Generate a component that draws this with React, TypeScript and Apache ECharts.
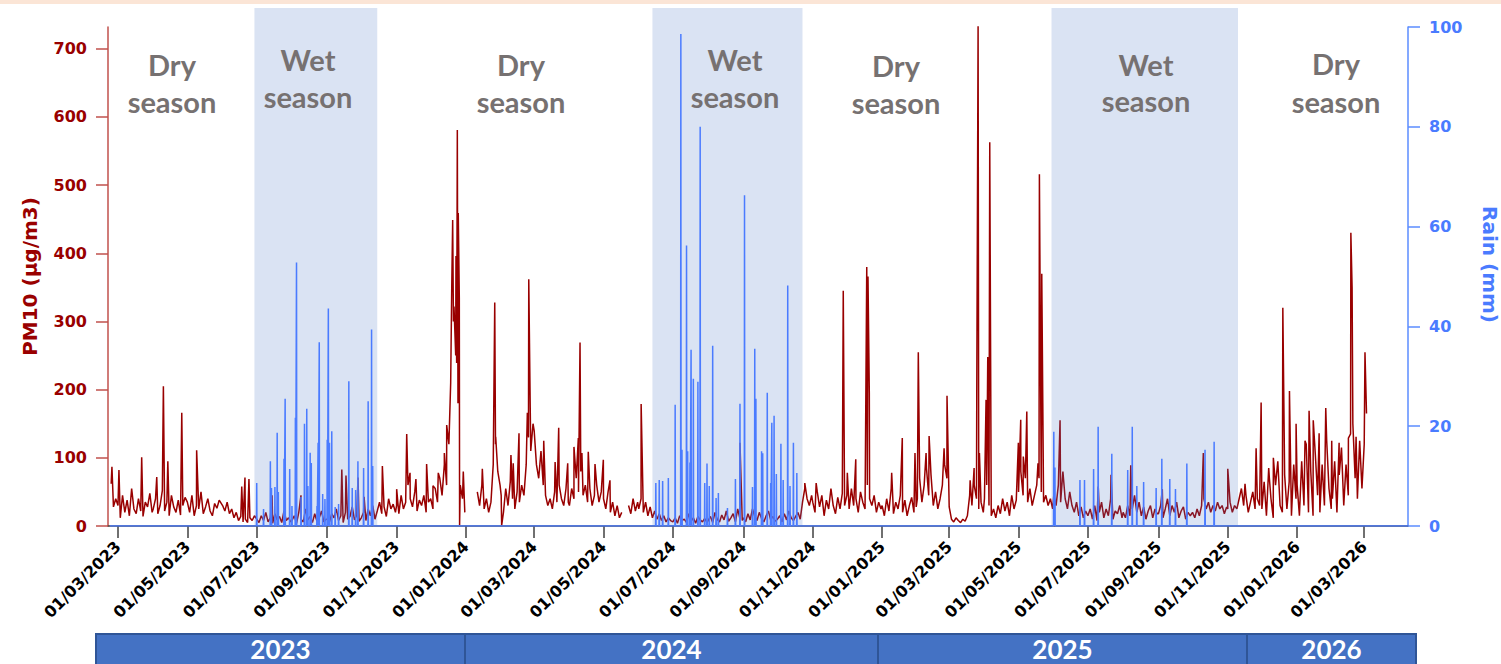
import React, { useEffect, useRef } from "react";
import * as echarts from "echarts";

type V = number | null;

// PM10 (µg/m3): values on days 1,3,5,... of each month
// 2023 starts in February
const pm10_2023: V[][] = [
  [null, null, null, null, null, null, null, null, null, null, null, 62, 28, 40],
  [30, 12, 45, 20, 38, 15, 55, 25, 18, 40, 22, 14, 35, 28, 48, 20],
  [25, 40, 18, 30, 52, 22, 35, 15, 45, 28, 20, 38, 16, 30, 42],
  [35, 20, 45, 15, 30, 25, 50, 18, 28, 40, 22, 15, 33, 26, 38],
  [30, 22, 35, 18, 25, 12, 20, 8, 14, 6, 10, 5, 12, 8, 15],
  [10, 5, 15, 8, 20, 6, 12, 4, 18, 9, 14, 5, 22, 8, 12, 6],
  [8, 15, 4, 20, 10, 6, 25, 9, 14, 5, 18, 7, 12, 22, 6, 10],
  [10, 6, 18, 12, 25, 8, 15, 5, 20, 10, 14, 28, 9, 16, 7],
  [12, 20, 8, 25, 15, 30, 10, 22, 35, 18, 28, 14, 40, 25, 32, 20],
  [30, 18, 45, 25, 35, 60, 40, 28, 50, 22, 38, 30, 45, 20, 35],
  [40, 25, 55, 35, 70, 45, 90, 60, 120, 210, 300, 250, 180, 60, 40, 20],
];
const pm10_2024: V[][] = [
  [null, null, null, null, null, 50, 30, 60, 25, 40, 20, 35, 90, 120, 80, 60],
  [45, 20, 55, 30, 65, 40, 25, 50, 35, 60, 45, 90, 130, 110, 150],
  [140, 90, 70, 110, 60, 45, 30, 40, 25, 50, 35, 60, 40, 30, 55, 35],
  [30, 55, 40, 70, 50, 80, 45, 60, 35, 55, 30, 45, 60, 35, 50],
  [40, 25, 50, 20, 35, 15, 30, 12, 20, null, null, 30, 18, 40, 22, 35],
  [25, 40, 20, 35, 15, 28, 12, 22, 10, 18, 8, 15, 6, 12, 8],
  [6, 12, 4, 15, 8, 10, 5, 18, 7, 12, 4, 14, 9, 6, 11, 5],
  [8, 14, 5, 20, 10, 6, 16, 9, 22, 7, 12, 18, 6, 25, 10, 8],
  [12, 6, 18, 9, 25, 14, 8, 20, 11, 6, 15, 22, 9, 14, 7],
  [10, 15, 6, 18, 9, 22, 12, 8, 14, 20, 10, 35, 55, 40, 30, 45],
  [35, 20, 50, 28, 45, 15, 38, 25, 55, 30, 18, 42, 25, 48, 30],
  [45, 25, 55, 30, 40, 20, 50, 35, 25, 60, 40, 30, 45, 20, 35, 25],
];
const pm10_2025: V[][] = [
  [30, 15, 40, 22, 55, 18, 35, 25, 45, 20, 38, 15, 30, 42, 20, 28],
  [40, 70, 35, 60, 85, 45, 75, 30, 50, 25, 40, 60, 90, 70],
  [28, 10, 6, 12, 8, 5, 10, 7, 15, 45, 30, 60, 40, 25, 35, 20],
  [40, 60, 30, 15, 25, 12, 30, 18, 40, 22, 35, 15, 45, 25, 38],
  [50, 80, 45, 70, 35, 55, 30, 45, 60, 70, 50, 35, 45, 30, 40, 25],
  [45, 30, 60, 35, 80, 40, 25, 50, 30, 20, 35, 15, 28, 12, 22],
  [15, 25, 10, 30, 8, 20, 35, 12, 25, 15, 40, 10, 22, 18, 30, 12],
  [20, 12, 30, 15, 25, 45, 20, 35, 15, 28, 10, 22, 30, 12, 25, 18],
  [18, 30, 12, 25, 40, 15, 30, 20, 35, 12, 22, 28, 10, 20, 15],
  [20, 12, 25, 15, 30, 40, 25, 35, 20, 30, 22, 35, 25, 30, 18, 28],
  [25, 35, 20, 30, 25, 40, 55, 30, 45, 20, 35, 50, 25, 40, 30],
  [25, 65, 15, 85, 40, 12, 60, 95, 30, 20, 75, 25, 65, 15, 90, 40],
];
const pm10_2026: V[][] = [
  [60, 15, 95, 30, 120, 20, 80, 15, 105, 45, 20, 90, 30, 125, 55, 25],
  [40, 95, 20, 75, 115, 30, 90, 45, 135, 150, 70, 40, 125, 55],
  [120, 165],
];

// isolated PM10 peaks: [date "YYYY-MM-DD HH", value]
const pm10Spikes: [string, number][] = [
  ["2023-02-23 16", 87], ["2023-03-01 20", 82], ["2023-03-21 20", 101], ["2023-04-04 02", 72],
  ["2023-04-09 22", 205], ["2023-04-13 20", 95], ["2023-04-26 02", 166], ["2023-05-09 04", 111],
  ["2023-06-17 20", 58], ["2023-06-20 16", 71], ["2023-06-24 04", 69], ["2023-07-14 12", 45],
  ["2023-08-08 22", 45], ["2023-09-13 20", 83], ["2023-09-17 12", 74], ["2023-09-28 02", 71],
  ["2023-10-03 10", 43], ["2023-10-19 12", 88], ["2023-11-01 02", 54], ["2023-11-09 22", 135],
  ["2023-11-12 20", 78], ["2023-11-18 00", 69], ["2023-11-27 10", 91], ["2023-12-03 00", 59],
  ["2023-12-07 16", 78], ["2023-12-13 00", 107], ["2023-12-15 02", 148], ["2023-12-18 14", 210],
  ["2023-12-19 12", 348], ["2023-12-20 08", 449], ["2023-12-21 12", 322], ["2023-12-23 06", 396],
  ["2023-12-23 20", 239], ["2023-12-24 10", 581], ["2023-12-25 06", 459], ["2023-12-26 04", 335],
  ["2023-12-26 10", 1], ["2023-12-29 16", 80],
  ["2024-01-15 10", 84], ["2024-01-26 08", 328], ["2024-01-27 04", 131], ["2024-02-01 10", 1],
  ["2024-02-09 14", 104], ["2024-02-11 14", 92], ["2024-02-16 16", 136], ["2024-02-24 00", 166],
  ["2024-02-25 06", 362], ["2024-02-26 12", 178], ["2024-03-09 10", 125], ["2024-03-19 10", 94],
  ["2024-03-22 14", 144], ["2024-03-30 12", 92], ["2024-04-05 00", 116], ["2024-04-08 20", 129],
  ["2024-04-10 08", 269], ["2024-04-12 00", 107], ["2024-04-17 14", 109], ["2024-04-23 12", 91],
  ["2024-04-30 20", 97], ["2024-05-06 16", 67], ["2024-06-03 02", 179], ["2024-08-29 00", 122],
  ["2024-10-25 00", 63], ["2024-11-04 00", 63], ["2024-11-27 20", 345], ["2024-12-01 10", 78],
  ["2024-12-08 20", 98], ["2024-12-18 12", 380], ["2024-12-19 14", 366], ["2024-12-20 18", 194],
  ["2025-01-09 10", 78], ["2025-01-18 18", 129], ["2025-01-29 22", 107], ["2025-02-01 20", 255],
  ["2025-02-08 16", 107], ["2025-02-11 08", 132], ["2025-02-24 12", 114], ["2025-02-27 02", 191],
  ["2025-03-19 10", 67], ["2025-03-22 22", 85], ["2025-03-25 06", 195], ["2025-03-26 10", 734],
  ["2025-03-27 14", 107], ["2025-04-02 10", 185], ["2025-04-03 22", 248], ["2025-04-05 16", 563],
  ["2025-04-30 20", 122], ["2025-05-02 22", 156], ["2025-05-05 04", 102], ["2025-05-08 06", 168],
  ["2025-05-18 02", 92], ["2025-05-19 08", 516], ["2025-05-21 10", 370], ["2025-06-06 12", 155],
  ["2025-07-10 02", 58], ["2025-07-21 08", 75], ["2025-08-07 16", 89], ["2025-09-04 10", 54],
  ["2025-10-10 12", 107], ["2025-11-01 00", 84], ["2025-11-16 04", 62], ["2025-11-25 22", 114],
  ["2025-11-30 08", 181], ["2025-12-07 14", 70], ["2025-12-11 02", 100], ["2025-12-19 10", 320],
  ["2025-12-25 06", 198], ["2025-12-31 02", 150],
  ["2026-01-07 22", 125], ["2026-01-11 12", 169], ["2026-01-15 04", 155], ["2026-01-20 08", 136],
  ["2026-01-26 04", 173], ["2026-01-31 10", 125], ["2026-02-06 22", 122], ["2026-02-15 02", 129],
  ["2026-02-17 06", 430], ["2026-02-18 08", 350], ["2026-02-21 20", 131], ["2026-03-01 16", 255],
];

// daily rain (mm)
const rain2023: [string, number][] = [
  ["2023-07-01", 8.6], ["2023-07-07", 3.4], ["2023-07-13", 13], ["2023-07-14", 7.6], ["2023-07-17", 7.8],
  ["2023-07-19", 18.7], ["2023-07-20", 6.8], ["2023-07-25", 13.5], ["2023-07-26", 25.5], ["2023-07-30", 11.4],
  ["2023-08-01", 4], ["2023-08-04", 21.7], ["2023-08-05", 52.8], ["2023-08-09", 5.8], ["2023-08-12", 20.5],
  ["2023-08-14", 23.5], ["2023-08-15", 8], ["2023-08-17", 14.7], ["2023-08-18", 12.6], ["2023-08-23", 4],
  ["2023-08-24", 16.7], ["2023-08-25", 36.8], ["2023-08-28", 6.4], ["2023-08-30", 5.4], ["2023-09-01", 17.3],
  ["2023-09-02", 43.6], ["2023-09-03", 16.7], ["2023-09-05", 19], ["2023-09-08", 3.8], ["2023-09-11", 4.4],
  ["2023-09-20", 29], ["2023-09-23", 7.6], ["2023-09-26", 7.2], ["2023-09-28", 13], ["2023-10-03", 11.6],
  ["2023-10-07", 25], ["2023-10-10", 39.4], ["2023-10-11", 12],
];
const rain2024: [string, number][] = [
  ["2024-06-16", 8.6], ["2024-06-19", 9.2], ["2024-06-22", 9], ["2024-06-27", 9.6], ["2024-07-03", 24.3],
  ["2024-07-08", 98.6], ["2024-07-09", 15.3], ["2024-07-13", 56.2], ["2024-07-14", 15], ["2024-07-16", 12.7],
  ["2024-07-17", 35.3], ["2024-07-19", 29.5], ["2024-07-23", 28.9], ["2024-07-25", 80], ["2024-07-29", 8.6],
  ["2024-07-31", 12.5], ["2024-08-02", 8], ["2024-08-05", 36.1], ["2024-08-08", 5.6], ["2024-08-10", 6.6],
  ["2024-08-18", 3.6], ["2024-08-25", 9.4], ["2024-08-29", 24.5], ["2024-09-02", 66.3], ["2024-09-09", 7.8],
  ["2024-09-11", 35.5], ["2024-09-12", 25.5], ["2024-09-17", 15], ["2024-09-18", 14.6], ["2024-09-22", 26.7],
  ["2024-09-25", 8.6], ["2024-09-26", 20.7], ["2024-09-28", 22.1], ["2024-09-30", 10.4], ["2024-10-04", 16.5],
  ["2024-10-06", 9.2], ["2024-10-10", 48.2], ["2024-10-12", 8], ["2024-10-15", 16.7], ["2024-10-18", 10.6],
];
const rain2025: [string, number][] = [
  ["2025-06-01", 18.9], ["2025-06-02", 11.7], ["2025-06-24", 9.2], ["2025-06-28", 9.2], ["2025-07-06", 11.4],
  ["2025-07-10", 19.9], ["2025-07-22", 14.5], ["2025-08-05", 11.2], ["2025-08-09", 19.9], ["2025-08-13", 8],
  ["2025-08-19", 8.8], ["2025-08-30", 7.6], ["2025-09-04", 13.5], ["2025-09-11", 9.4], ["2025-09-16", 7.4],
  ["2025-09-26", 12.5], ["2025-10-12", 15.3], ["2025-10-20", 16.9],
];

const wetSeasons: [string, string][] = [
  ["2023-06-29", "2023-10-15"],
  ["2024-06-13", "2024-10-23"],
  ["2025-05-30", "2025-11-10"],
];

const tickDates = [
  "2023-03-01", "2023-05-01", "2023-07-01", "2023-09-01", "2023-11-01",
  "2024-01-01", "2024-03-01", "2024-05-01", "2024-07-01", "2024-09-01", "2024-11-01",
  "2025-01-01", "2025-03-01", "2025-05-01", "2025-07-01", "2025-09-01", "2025-11-01",
  "2026-01-01", "2026-03-01",
];
const pm10Ticks = [0, 100, 200, 300, 400, 500, 600, 700];
const seasonNames = ["Dry", "Wet", "Dry", "Wet", "Dry", "Wet", "Dry"];
const yearLabels = ["2023", "2024", "2025", "2026"];

function ts(s: string): number {
  const [d, h] = s.split(" ");
  const [y, m, dd] = d.split("-").map(Number);
  return new Date(y, m - 1, dd, h ? Number(h) : 0).getTime();
}

function buildPm10(): [number, V][] {
  const pts: [number, V][] = [];
  const blocks: [number, number, V[][]][] = [
    [2023, 1, pm10_2023], [2024, 0, pm10_2024], [2025, 0, pm10_2025], [2026, 0, pm10_2026],
  ];
  for (const [y, m0, months] of blocks) {
    months.forEach((vals, k) => {
      const m = m0 + k;
      const dim = new Date(y, m + 1, 0).getDate();
      vals.forEach((v, i) => {
        const day = 1 + 2 * i;
        if (day <= dim) pts.push([new Date(y, m, day).getTime(), v]);
      });
    });
  }
  for (const [d, v] of pm10Spikes) pts.push([ts(d), v]);
  pts.sort((a, b) => a[0] - b[0]);
  while (pts.length && pts[0][1] === null) pts.shift();
  return pts;
}

function buildRain(): [number, number][] {
  const h = 5 * 3600 * 1000;
  const pts: [number, number][] = [[ts("2023-02-22"), 0], [ts("2026-04-08 12"), 0]];
  for (const [d, v] of [...rain2023, ...rain2024, ...rain2025]) {
    const t = ts(d);
    pts.push([t - h, 0], [t, v], [t + h, 0]);
  }
  pts.sort((a, b) => a[0] - b[0]);
  return pts;
}

const pad = (n: number) => (n < 10 ? "0" + n : "" + n);

export default function App() {
  const ref = useRef<HTMLDivElement>(null);
  useEffect(() => {
    if (!ref.current) return;
    const chart = echarts.init(ref.current, null, { renderer: "svg" });
    const xMin = ts("2023-02-20 05");
    const xMax = ts("2026-04-08 12");
    const tickTs = tickDates.map((d) => ts(d));

    const seasonPos: [number, number, number][] = [
      [172, 64, 101], [308, 59, 96], [521, 64, 101], [735, 59, 96],
      [896, 65, 102], [1146, 64, 100], [1336, 63, 101],
    ];
    const seasonGraphics: any[] = [];
    seasonNames.forEach((nm, i) => {
      const [x, y1, y2] = seasonPos[i];
      const st = { fill: "#767171", fontFamily: "Lato", fontWeight: "bold", fontSize: 29, align: "center", verticalAlign: "middle" };
      seasonGraphics.push({ type: "text", x, y: y1, z: 10, silent: true, style: { ...st, text: nm } });
      seasonGraphics.push({ type: "text", x, y: y2, z: 10, silent: true, style: { ...st, text: "season" } });
    });
    const yearBands: [number, number][] = [[96, 465], [465, 878], [878, 1247], [1247, 1416]];
    const yearGraphics: any[] = [];
    yearLabels.forEach((yl, i) => {
      const [a, b] = yearBands[i];
      yearGraphics.push({ type: "rect", silent: true, z: 10, shape: { x: a, y: 634, width: b - a, height: 36 }, style: { fill: "#4472C4", stroke: "#2F5597", lineWidth: 2 } });
      yearGraphics.push({ type: "text", silent: true, z: 11, x: (a + b) / 2, y: 649, style: { text: yl, fill: "#ffffff", fontFamily: "Lato", fontWeight: "bold", fontSize: 26, align: "center", verticalAlign: "middle" } });
    });

    const option: any = {
      animation: false,
      grid: [
        { left: 108, right: 93, top: 27, bottom: 138, containLabel: false, outerBoundsMode: "none" },
        { left: 108, right: 93, top: 8, bottom: 138, containLabel: false, outerBoundsMode: "none" },
      ],
      xAxis: [
        {
          type: "value", gridIndex: 0, min: xMin, max: xMax, offset: 2,
          axisLine: { show: true, lineStyle: { color: "#404040", width: 1.5 } },
          axisTick: { show: true, length: 12, customValues: tickTs, lineStyle: { color: "#404040", width: 1.5 } },
          axisLabel: {
            customValues: tickTs, rotate: 45, margin: 16, color: "#000", fontWeight: "bold",
            fontSize: 16, fontFamily: "DejaVu Sans",
            formatter: (v: number) => { const d = new Date(v); return pad(d.getDate()) + "/" + pad(d.getMonth() + 1) + "/" + d.getFullYear(); },
          },
          splitLine: { show: false },
        },
        { type: "value", gridIndex: 1, min: xMin, max: xMax, show: false },
      ],
      yAxis: [
        {
          type: "value", gridIndex: 0, min: 0, max: 732, position: "left",
          name: "PM10 (µg/m3)", nameLocation: "middle", nameGap: 68, nameRotate: 90,
          nameTextStyle: { color: "#990000", fontFamily: "DejaVu Sans", fontWeight: "bold", fontSize: 20 },
          axisLine: { show: true, lineStyle: { color: "#C0504D", width: 1.5 } },
          axisTick: { show: true, length: 12, customValues: pm10Ticks, lineStyle: { color: "#C0504D", width: 1.5 } },
          axisLabel: { customValues: pm10Ticks, margin: 21, color: "#990000", fontWeight: "bold", fontSize: 16, fontFamily: "DejaVu Sans" },
          splitLine: { show: false },
        },
        {
          type: "value", gridIndex: 0, min: 0, max: 100, interval: 20, position: "right",
          name: "Rain (mm)", nameLocation: "middle", nameGap: 72, nameRotate: -90,
          nameTextStyle: { color: "#4A7BFF", fontFamily: "DejaVu Sans", fontWeight: "bold", fontSize: 20, padding: [0, 24, 0, 0] },
          axisLine: { show: true, lineStyle: { color: "#5B8CFF", width: 1.5 } },
          axisTick: { show: true, length: 12, lineStyle: { color: "#5B8CFF", width: 1.5 } },
          axisLabel: { margin: 21, color: "#4A7BFF", fontWeight: "bold", fontSize: 16, fontFamily: "DejaVu Sans" },
          splitLine: { show: false },
        },
        { type: "value", gridIndex: 1, min: 0, max: 1, show: false },
      ],
      series: [
        {
          type: "line", name: "PM10", xAxisIndex: 0, yAxisIndex: 0, data: buildPm10(),
          symbol: "none", showSymbol: false, silent: true, z: 2,
          lineStyle: { color: "#990000", width: 1.5 },
        },
        {
          type: "line", name: "Seasons", xAxisIndex: 1, yAxisIndex: 2, data: [], silent: true,
          markArea: {
            silent: true, z: 3,
            itemStyle: { color: "rgba(68,114,196,0.2)" },
            data: wetSeasons.map(([a, b]) => [{ xAxis: ts(a) }, { xAxis: ts(b) }]),
          },
        },
        {
          type: "line", name: "Rain", xAxisIndex: 0, yAxisIndex: 1, data: buildRain(),
          symbol: "none", showSymbol: false, silent: true, z: 4,
          lineStyle: { color: "#4A7BFF", width: 1.5 },
        },
      ],
      graphic: [
        { type: "rect", silent: true, shape: { x: 0, y: 0, width: 1501, height: 4 }, style: { fill: "#FBE5D6" } },
        ...seasonGraphics,
        ...yearGraphics,
      ],
    };
    chart.setOption(option);
    return () => chart.dispose();
  }, []);
  return <div ref={ref} style={{ position: "fixed", left: 0, top: 0, width: 1501, height: 664, background: "#fff" }} />;
}
